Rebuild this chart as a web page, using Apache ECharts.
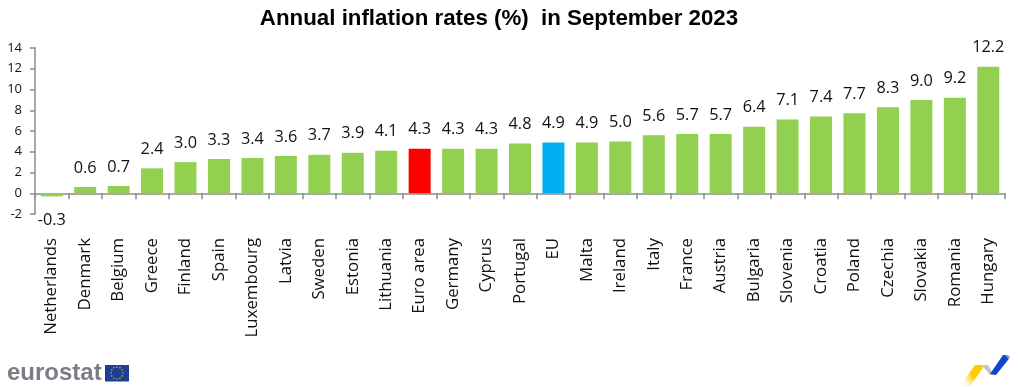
<!DOCTYPE html>
<html><head><meta charset="utf-8">
<style>html,body{margin:0;padding:0;background:#fff}#c{width:1018px;height:387px}</style>
<script src="https://cdn.jsdelivr.net/npm/echarts@6/dist/echarts.min.js"></script>
</head><body><div id="c"></div>
<script>
const titleText = "Annual inflation rates (%)  in September 2023";
const categories = ["Netherlands","Denmark","Belgium","Greece","Finland","Spain","Luxembourg","Latvia","Sweden","Estonia","Lithuania","Euro area","Germany","Cyprus","Portugal","EU","Malta","Ireland","Italy","France","Austria","Bulgaria","Slovenia","Croatia","Poland","Czechia","Slovakia","Romania","Hungary"];
const values = [-0.3,0.6,0.7,2.4,3.0,3.3,3.4,3.6,3.7,3.9,4.1,4.3,4.3,4.3,4.8,4.9,4.9,5.0,5.6,5.7,5.7,6.4,7.1,7.4,7.7,8.3,9.0,9.2,12.2];
const highlight = {"Euro area":"#FF0000","EU":"#00B0F0"};
const barColor = "#92D050";
const chart = echarts.init(document.getElementById('c'),null,{renderer:'canvas'});
const stars = [];
for(let i=0;i<12;i++){const a=i*Math.PI/6;stars.push({type:'circle',shape:{cx:117+6*Math.cos(a),cy:373+6*Math.sin(a),r:0.7},style:{fill:'#E8D33A'}});}
const fade=(x,y,x2,y2,c,s)=>new echarts.graphic.LinearGradient(x,y,x2,y2,[{offset:0,color:c},{offset:s,color:c},{offset:1,color:'rgba(255,255,255,0)'}]);
chart.setOption({
  animation:false,
  title:{text:titleText,left:494,top:3,textAlign:'center',textStyle:{fontFamily:'Liberation Sans',fontWeight:'bold',fontSize:22.3,color:'#000'}},
  grid:{left:35,right:13,top:48,bottom:173,containLabel:false},
  xAxis:{type:'category',data:categories,
    axisLine:{onZero:true,lineStyle:{color:'#8c8c8c',width:1.5}},
    axisTick:{show:true,alignWithLabel:false,length:6,lineStyle:{color:'#8c8c8c',width:1.5}},
    axisLabel:{interval:0,rotate:90,margin:24,fontFamily:'Open Sans',fontSize:16.8,color:'#111'}},
  yAxis:{type:'value',min:-2,max:14,interval:2,
    axisLine:{show:true,lineStyle:{color:'#8c8c8c',width:1.5}},
    axisTick:{show:true,length:5,lineStyle:{color:'#8c8c8c',width:1.5}},
    splitLine:{show:false},
    axisLabel:{margin:13,fontFamily:'Open Sans',fontSize:13,color:'#111'}},
  series:[{type:'bar',barWidth:22,
    data:categories.map((c,i)=>({value:values[i],itemStyle:{color:highlight[c]||barColor},label:values[i]<0?{distance:16}:undefined})),
    label:{show:true,position:'outside',distance:11,formatter:p=>p.value.toFixed(1),fontFamily:'Open Sans',fontSize:16.3,color:'#111'}}],
  graphic:[
    {type:'text',left:7,top:361,style:{text:'eurostat',fontFamily:'Liberation Sans',fontWeight:'bold',fontSize:24,fill:'#7a7d85'}},
    {type:'rect',shape:{x:105,y:365,width:24,height:16.5},style:{fill:'#1c3f94'}},
    ...stars,
    {type:'polygon',shape:{points:[[960,386],[975,365],[985,365],[970,386]]},style:{fill:fade(1,0,0,1,'#FFCC00',0.5)}},
    {type:'polygon',shape:{points:[[982,365],[988,365],[994,375],[990,375]]},style:{fill:'#c4c4c4'}},
    {type:'polygon',shape:{points:[[990,374],[1003,355],[1012,355],[996,375]]},style:{fill:fade(0,1,1,0,'#0E47CB',0.8)}}
  ]
});
</script></body></html>
